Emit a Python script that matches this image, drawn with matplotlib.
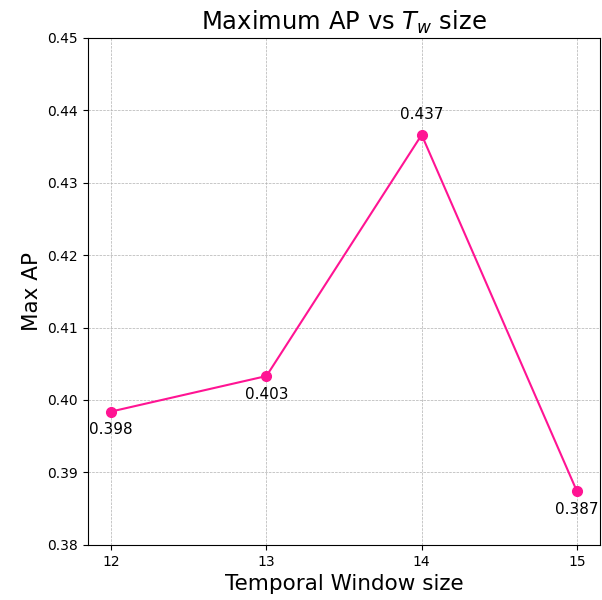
import matplotlib
matplotlib.use("Agg")
import matplotlib.pyplot as plt

window_sizes = [12, 13, 14, 15]
max_ap = [0.3984, 0.4033, 0.4366, 0.3874]
label_offsets = [-13, -13, 15, -13]

fig = plt.figure(figsize=(6.02, 6.0), dpi=100)
ax = fig.add_axes([0.146, 0.092, 0.851, 0.845])

ax.plot(window_sizes, max_ap, color="#ff1493", marker="o", markersize=7, linewidth=1.5)

# value labels
for x, y, off in zip(window_sizes, max_ap, label_offsets):
    ax.annotate(f"{y:.3f}", (x, y), textcoords="offset points", xytext=(0, off),
                ha="center", va="center", fontsize=11)

ax.set_ylim(0.38, 0.45)
ax.set_xticks(window_sizes)
ax.set_title(r"Maximum AP vs $T_w$ size", fontsize=17.5)
ax.set_xlabel("Temporal Window size", fontsize=15.5)
ax.set_ylabel("Max AP", fontsize=15.5)
ax.grid(True, linestyle="--", linewidth=0.5, color="#b0b0b0")

fig.savefig("out.png", dpi=100)
plt.close(fig)
